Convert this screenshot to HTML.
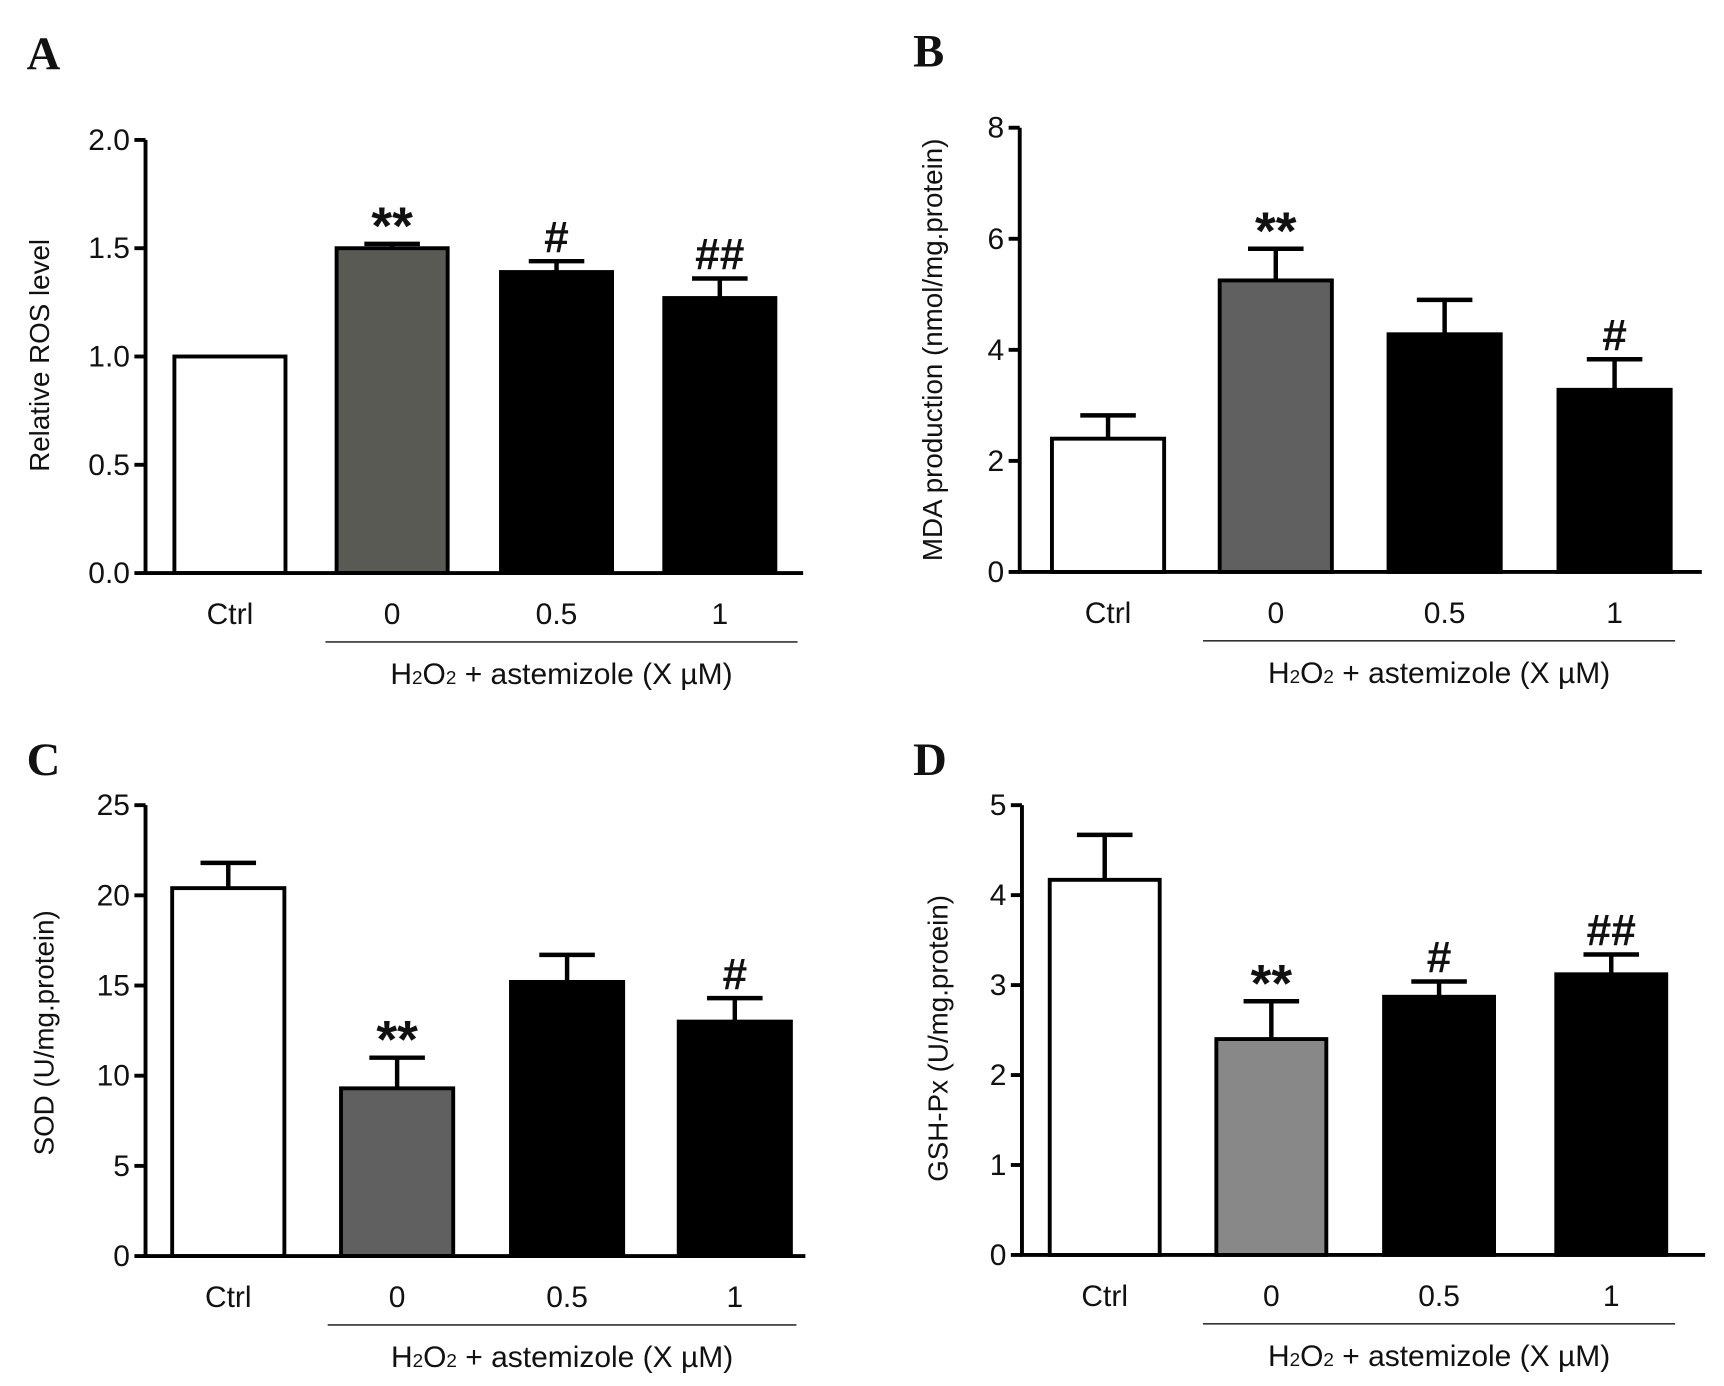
<!DOCTYPE html>
<html><head><meta charset="utf-8">
<style>
html,body{margin:0;padding:0;background:#fff;}
svg{display:block;}
text{font-family:"Liberation Sans",Arial,sans-serif;fill:#111;}
.letter{font-family:"Liberation Serif","Times New Roman",serif;font-weight:bold;font-size:42px;}
</style></head>
<body>
<svg id="fig" width="1724" height="1386" viewBox="0 0 1552 1248" preserveAspectRatio="none" xmlns="http://www.w3.org/2000/svg"></svg>
<script>
const categories = ["Ctrl", "0", "0.5", "1"];
const rosValues = [1.0, 1.50, 1.39, 1.27];
const rosErrors = [0, 0.02, 0.05, 0.09];
const rosMarks = ["", "**", "#", "##"];
const rosTicks = ["0.0", "0.5", "1.0", "1.5", "2.0"];
const mdaValues = [2.40, 5.25, 4.28, 3.28];
const mdaErrors = [0.42, 0.57, 0.62, 0.55];
const mdaMarks = ["", "**", "", "#"];
const mdaTicks = ["0", "2", "4", "6", "8"];
const sodValues = [20.4, 9.3, 15.2, 13.0];
const sodErrors = [1.4, 1.7, 1.5, 1.3];
const sodMarks = ["", "**", "", "#"];
const sodTicks = ["0", "5", "10", "15", "20", "25"];
const gshValues = [4.17, 2.40, 2.87, 3.12];
const gshErrors = [0.50, 0.42, 0.17, 0.22];
const gshMarks = ["", "**", "#", "##"];
const gshTicks = ["0", "1", "2", "3", "4", "5"];

const NS = "http://www.w3.org/2000/svg";
const svg = document.getElementById("fig");
function mk(tag, attrs, parent, txt) {
  const e = document.createElementNS(NS, tag);
  for (const k in attrs) e.setAttribute(k, attrs[k]);
  if (txt !== undefined) e.textContent = txt;
  (parent || svg).appendChild(e);
  return e;
}

function panel(o) {
  const g = mk("g", {});
  
  
  const ymax = parseFloat(o.ticks[o.ticks.length - 1]);
  const y = v => o.y0 - (v / ymax) * (o.y0 - o.yTop);
  const x = i => o.barL[i];

  const L = mk("text", {x: o.lx, y: o.ly, class: "letter"}, g, o.letter);
  
  

  for (let i = 0; i < categories.length; i++) {
    const top = y(o.values[i]);
    const b = mk("rect", {x: x(i), y: top, width: o.barW, height: o.y0 - top,
      fill: o.fills[i], stroke: "#000", "stroke-width": 3.5}, g);
    
    
    const cx = x(i) + o.barW / 2;
    if (o.errors[i] > 0) {
      const et = y(o.values[i] + o.errors[i]);
      const eb = mk("path", {d: `M${cx},${top} V${et} M${cx - 25},${et} H${cx + 25}`,
        stroke: "#000", "stroke-width": 4, fill: "none"}, g);
      
      
    }
    if (o.marks[i]) {
      const et = y(o.values[i] + o.errors[i]);
      const star = o.marks[i].indexOf("*") >= 0;
      const m = mk("text", {x: cx, y: et - (star ? 0 : 8), "text-anchor": "middle",
        "font-size": star ? 48 : 40, "font-weight": "bold"}, g, o.marks[i]);
      
      
    }
    const cl = mk("text", {x: cx, y: o.y0 + 46, "text-anchor": "middle", "font-size": 27}, g, categories[i]);
    
    
  }
  const ax = mk("path", {d: `M${o.ax},${o.yTop} V${o.y0} H${o.xEnd}`, stroke: "#000",
    "stroke-width": 3.5, fill: "none"}, g);
  
  
  o.ticks.forEach(t => {
    const ty = y(parseFloat(t));
    mk("line", {x1: o.ax - 10, x2: o.ax, y1: ty, y2: ty, stroke: "#000", "stroke-width": 3.5}, g);
    const tl = mk("text", {x: o.ax - 14, y: ty + 9, "text-anchor": "end", "font-size": 27}, g, t);
    
    
  });
  const yt = mk("text", {x: 0, y: 0, "text-anchor": "middle", "font-size": 25,
    transform: `translate(${o.ytx},${o.yty}) rotate(-90)`}, g, o.ytitle);
  
  
  const ul = mk("line", {x1: o.ulx1, x2: o.ulx2, y1: o.y0 + 62, y2: o.y0 + 62, stroke: "#333", "stroke-width": 1.5}, g);
  
  
  const gl = mk("text", {x: (o.ulx1 + o.ulx2) / 2, y: o.y0 + 100, "text-anchor": "middle", "font-size": 27}, g);
  
  
  mk("tspan", {}, gl, "H");
  mk("tspan", {"font-size": 17}, gl, "2");
  mk("tspan", {}, gl, "O");
  mk("tspan", {"font-size": 17}, gl, "2");
  mk("tspan", {}, gl, " + astemizole (X \u00b5M)");
}

panel({letter: "A", lx: 24, ly: 62, ax: 131, yTop: 126, y0: 516, xEnd: 723,
  barL: [157, 303, 451, 598], barW: 100, values: rosValues, errors: rosErrors, marks: rosMarks,
  ticks: rosTicks, fills: ["#fff", "#5a5a55", "#000", "#000"], ytitle: "Relative ROS level",
  ytx: 44, yty: 320, ulx1: 293, ulx2: 718});
panel({letter: "B", lx: 822, ly: 60, ax: 918, yTop: 115, y0: 515, xEnd: 1532,
  barL: [947, 1098, 1250, 1403], barW: 101, values: mdaValues, errors: mdaErrors, marks: mdaMarks,
  ticks: mdaTicks, fills: ["#fff", "#606060", "#000", "#000"], ytitle: "MDA production (nmol/mg.protein)",
  ytx: 848, yty: 315, ulx1: 1083, ulx2: 1508});
panel({letter: "C", lx: 24, ly: 698, ax: 131, yTop: 725, y0: 1131, xEnd: 725,
  barL: [155, 307, 460, 611], barW: 101, values: sodValues, errors: sodErrors, marks: sodMarks,
  ticks: sodTicks, fills: ["#fff", "#606060", "#000", "#000"], ytitle: "SOD (U/mg.protein)",
  ytx: 48, yty: 930, ulx1: 295, ulx2: 717});
panel({letter: "D", lx: 822, ly: 698, ax: 920, yTop: 725, y0: 1130, xEnd: 1535,
  barL: [945, 1095, 1246, 1401], barW: 99, values: gshValues, errors: gshErrors, marks: gshMarks,
  ticks: gshTicks, fills: ["#fff", "#888888", "#000", "#000"], ytitle: "GSH-Px (U/mg.protein)",
  ytx: 853, yty: 935, ulx1: 1083, ulx2: 1508});
</script>
</body></html>
